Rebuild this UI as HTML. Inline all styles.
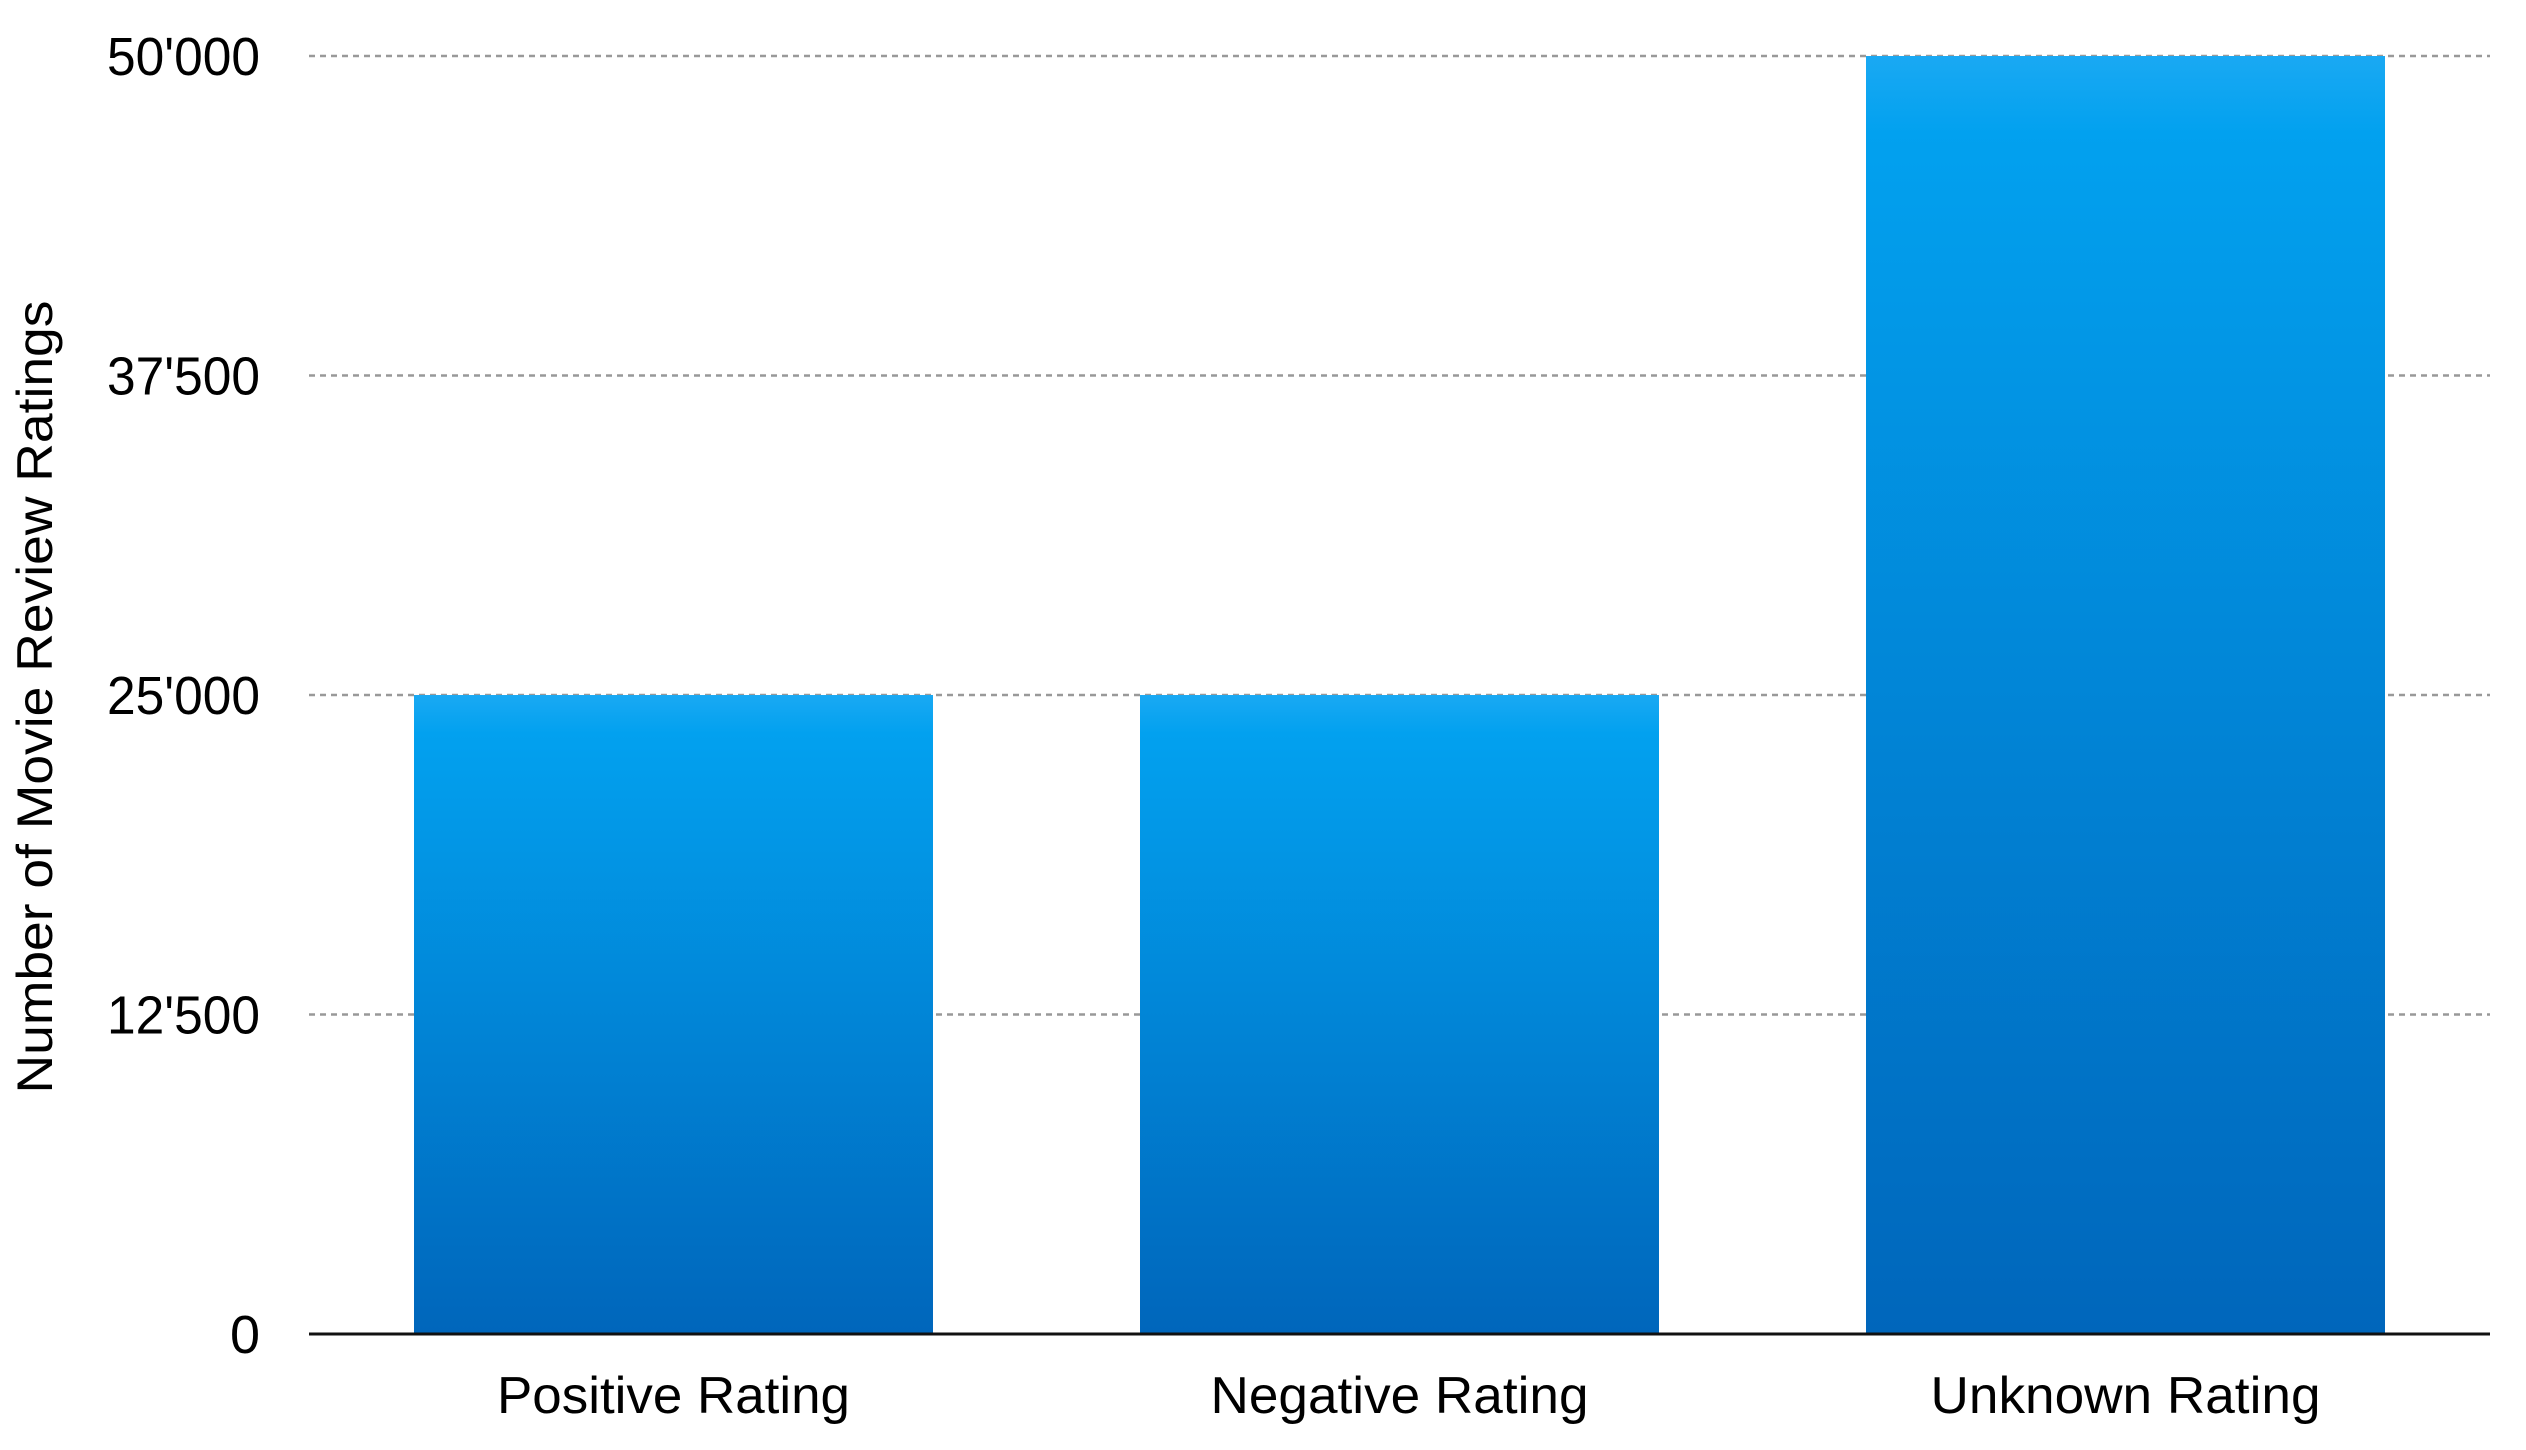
<!DOCTYPE html>
<html><head><meta charset="utf-8"><style>html,body{margin:0;padding:0;background:#fff}svg{display:block}</style></head>
<body>
<svg id="chart" width="2526" height="1450" xmlns="http://www.w3.org/2000/svg" font-family="'Liberation Sans', sans-serif">
<defs><linearGradient id="g" x1="0" y1="0" x2="0" y2="1"><stop offset="0" stop-color="#1aa9f3"/><stop offset="0.06" stop-color="#02a1ef"/><stop offset="1" stop-color="#0066bb"/></linearGradient></defs>
<g id="grid"></g><g id="bars"></g><g id="labels"></g>
<text transform="translate(52,697) rotate(-90)" text-anchor="middle" font-size="50" textLength="793" lengthAdjust="spacingAndGlyphs">Number of Movie Review Ratings</text>
</svg>
<script>
const categories = ["Positive Rating","Negative Rating","Unknown Rating"];
const values = [25000,25000,50000];
const ticks = [0,12500,25000,37500,50000];
const tickLabels = ["0","12'500","25'000","37'500","50'000"];
const NS="http://www.w3.org/2000/svg";
const x0=309,x1=2490,y0=1334,yTop=56,yMax=50000;
const ys=v=>y0-(v/yMax)*(y0-yTop);
const step=726,bw=519,first=414;
const labW=[353,378,390];
function mk(t,a,p){const e=document.createElementNS(NS,t);for(const k in a)e.setAttribute(k,a[k]);p.appendChild(e);return e;}
const grid=document.getElementById('grid'),bars=document.getElementById('bars'),labs=document.getElementById('labels');
ticks.forEach((t,i)=>{
  if(t>0){const l=mk('line',{x1:x0,x2:x1,y1:ys(t),y2:ys(t),stroke:'#999','stroke-width':2.5,'stroke-dasharray':'6 5'},grid);
  
  }
  const tx=mk('text',{x:260,y:ys(t)+19,'text-anchor':'end','font-size':54},labs);
  if(tickLabels[i].length>1){tx.setAttribute('textLength',tickLabels[i].length*25.5);tx.setAttribute('lengthAdjust','spacingAndGlyphs');}
  tx.textContent=tickLabels[i];
  
  
});
categories.forEach((c,i)=>{
  const x=first+i*step;
  const r=mk('rect',{x:x,y:ys(values[i]),width:bw,height:y0-ys(values[i]),fill:'url(#g)'},bars);
  
  
  const t=mk('text',{x:x+bw/2,y:1413,'text-anchor':'middle','font-size':52,textLength:labW[i],lengthAdjust:'spacingAndGlyphs'},labs);
  t.textContent=c;
  
  
});
const ax=mk('line',{x1:x0,x2:x1,y1:y0,y2:y0,stroke:'#111','stroke-width':3},document.getElementById('chart'));


</script>
</body></html>
